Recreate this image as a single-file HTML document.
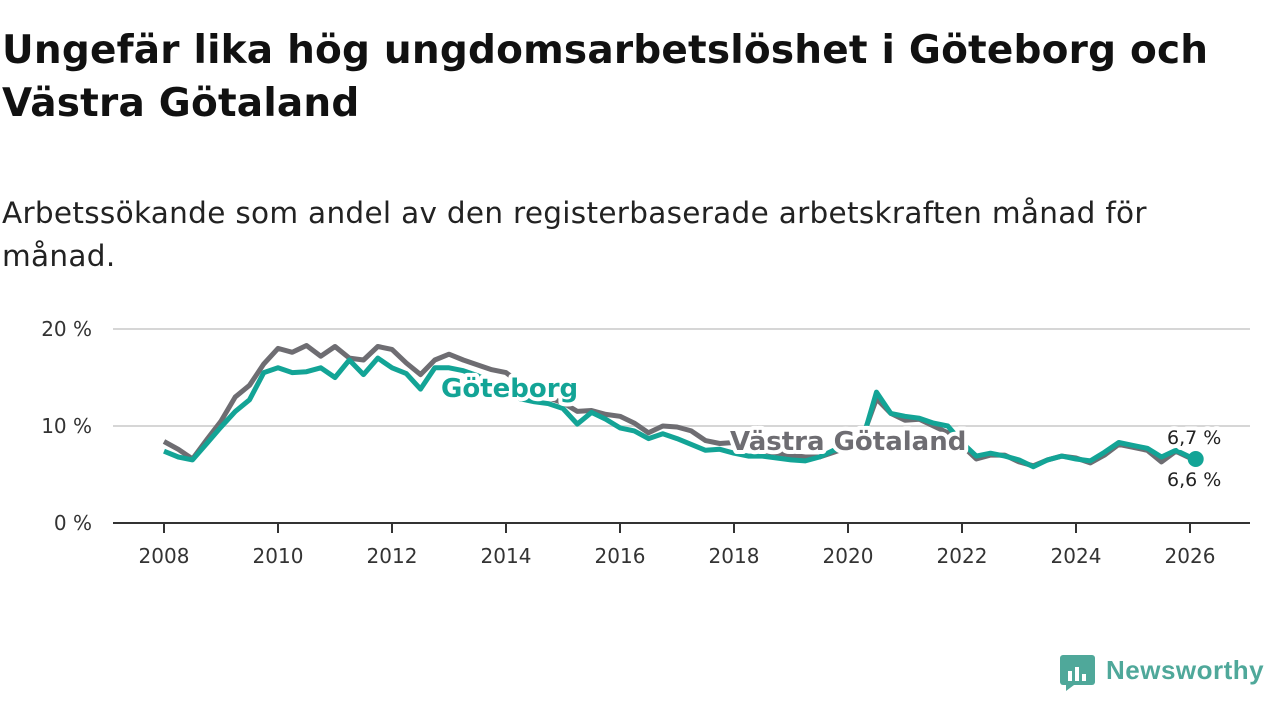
<!DOCTYPE html>
<html><head><meta charset="utf-8">
<style>
body{margin:0;width:1280px;height:720px;background:#fff;font-family:"DejaVu Sans","Liberation Sans",sans-serif;overflow:hidden;position:relative;color:#111}
h1{position:absolute;left:2px;top:24px;margin:0;font-size:39px;line-height:53px;font-weight:bold;width:1278px;white-space:nowrap;letter-spacing:0.2px}
.sub{position:absolute;left:2px;top:192px;margin:0;font-size:29.5px;line-height:43px;color:#222;width:1278px;white-space:nowrap;letter-spacing:0.3px}
svg{position:absolute;left:0;top:0}
</style></head><body>
<h1>Ungefär lika hög ungdomsarbetslöshet i Göteborg och<br>Västra Götaland</h1>
<p class="sub">Arbetssökande som andel av den registerbaserade arbetskraften månad för<br>månad.</p>
<svg id="chart" width="1280" height="720"></svg>
<div style="position:absolute;left:1060px;top:655px;width:220px;height:40px">
<svg width="35" height="36" style="left:0;top:0"><rect x="0" y="0" width="35" height="30" rx="3" fill="#4fa89a"/><path d="M6 30 L6 36 L14 30Z" fill="#4fa89a"/><rect x="8" y="16" width="4" height="10" fill="#fff"/><rect x="15" y="12" width="4" height="14" fill="#fff"/><rect x="22" y="19" width="4" height="7" fill="#fff"/></svg>
<span style="position:absolute;left:46px;top:0;font-size:26px;font-weight:bold;color:#4fa89a;font-family:'Liberation Sans',sans-serif;letter-spacing:0.5px">Newsworthy</span>
</div>
<script>
const dates=[2008,2008.25,2008.5,2008.75,2009,2009.25,2009.5,2009.75,2010,2010.25,2010.5,2010.75,2011,2011.25,2011.5,2011.75,2012,2012.25,2012.5,2012.75,2013,2013.25,2013.5,2013.75,2014,2014.25,2014.5,2014.75,2015,2015.25,2015.5,2015.75,2016,2016.25,2016.5,2016.75,2017,2017.25,2017.5,2017.75,2018,2018.25,2018.5,2018.75,2019,2019.25,2019.5,2019.75,2020,2020.25,2020.5,2020.75,2021,2021.25,2021.5,2021.75,2022,2022.25,2022.5,2022.75,2023,2023.25,2023.5,2023.75,2024,2024.25,2024.5,2024.75,2025,2025.25,2025.5,2025.75,2026,2026.1];
const vastraGotaland=[8.4,7.6,6.6,8.6,10.5,13.0,14.2,16.4,18.0,17.6,18.3,17.2,18.2,17.0,16.8,18.2,17.9,16.5,15.3,16.8,17.4,16.8,16.3,15.8,15.5,14.4,13.8,12.9,12.4,11.5,11.6,11.2,11.0,10.3,9.3,10.0,9.9,9.5,8.5,8.2,8.3,7.8,7.4,7.2,7.0,6.8,6.8,7.3,7.8,8.8,12.8,11.3,10.6,10.7,10.0,9.3,8.0,6.6,7.0,7.0,6.3,5.9,6.5,6.9,6.7,6.2,7.0,8.1,7.8,7.5,6.3,7.4,6.7,6.7];
const goteborg=[7.4,6.8,6.5,8.2,9.9,11.5,12.7,15.5,16.0,15.5,15.6,16.0,15.0,16.8,15.3,17.0,16.0,15.4,13.8,16.0,16.0,15.7,15.2,14.5,13.5,12.8,12.5,12.3,11.8,10.2,11.4,10.7,9.8,9.5,8.7,9.2,8.7,8.1,7.5,7.6,7.2,6.9,6.9,6.7,6.5,6.4,6.8,7.5,7.7,8.5,13.5,11.3,11.0,10.8,10.3,10.0,8.3,6.9,7.2,6.9,6.5,5.8,6.5,6.9,6.6,6.4,7.3,8.3,8.0,7.7,6.8,7.5,6.8,6.6];
const yTicks=[0,10,20];
const yTickLabels=["0 %","10 %","20 %"];
const xTicks=[2008,2010,2012,2014,2016,2018,2020,2022,2024,2026];
const NS="http://www.w3.org/2000/svg";
const svg=document.getElementById('chart');
const x=v=>164+(v-2008)*57;
const y=v=>523-v*9.7;
function mk(t,a,p){const e=document.createElementNS(NS,t);for(const k in a)e.setAttribute(k,a[k]);(p||svg).appendChild(e);return e;}
yTicks.forEach((t,i)=>{
 if(t>0){const g=mk('line',{x1:113,x2:1250,y1:y(t),y2:y(t),stroke:'#d6d6d6','stroke-width':2});
 
 }
 const l=mk('text',{x:92,y:y(t)+7,'text-anchor':'end','font-size':20,fill:'#333'});l.textContent=yTickLabels[i];
 
 
});
const ax=mk('line',{x1:113,x2:1250,y1:523,y2:523,stroke:'#333','stroke-width':2});


xTicks.forEach(t=>{
 mk('line',{x1:x(t),x2:x(t),y1:523,y2:533,stroke:'#333','stroke-width':2});
 const l=mk('text',{x:x(t),y:563,'text-anchor':'middle','font-size':20,fill:'#333'});l.textContent=t;
 
 
});
function line(vals,col,name){
 const d=vals.map((v,i)=>(i?'L':'M')+x(dates[i]).toFixed(1)+' '+y(v).toFixed(1)).join(' ');
 const p=mk('path',{d:d,fill:'none',stroke:col,'stroke-width':5,'stroke-linejoin':'round'});
 
 
}
line(vastraGotaland,'#6e6d72','line-vastra-gotaland');
line(goteborg,'#13a496','line-goteborg');
const n=dates.length-1;
const dot=mk('circle',{cx:x(dates[n]),cy:y(goteborg[n]),r:8,fill:'#13a496'});


function lab(txt,xx,yy,col,size,bold,name,halo){
 const t=mk('text',{x:xx,y:yy,'font-size':size,fill:col,'font-weight':bold?'bold':'normal'});
 if(halo){t.setAttribute('stroke','#fff');t.setAttribute('stroke-width',8);t.setAttribute('paint-order','stroke');t.setAttribute('stroke-linejoin','round');}
 t.textContent=txt;
 
 
}
lab('Göteborg',441,397,'#13a496',26,true,'label-goteborg',true);
lab('Västra Götaland',730,450,'#6e6d72',26,true,'label-vastra-gotaland',true);
lab('6,7 %',1167,444,'#222',19,false,'end-value-vastra-gotaland',true);
lab('6,6 %',1167,486,'#222',19,false,'end-value-goteborg',true);
</script>
</body></html>
